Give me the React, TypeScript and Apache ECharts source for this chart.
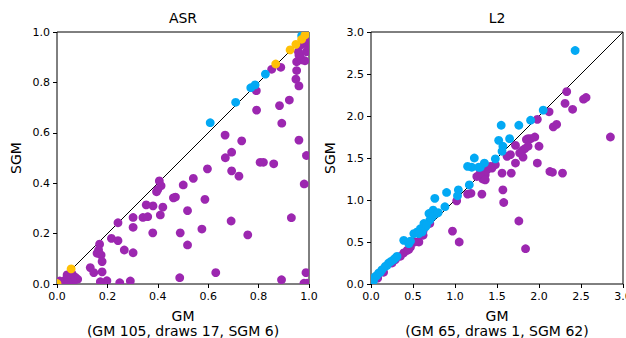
import React, { useEffect, useRef } from 'react';
import * as echarts from 'echarts';

// ---------- ASR panel ----------
const asrPurple: number[][] = [
  [0.852, 0.852], [0.888, 0.86], [0.791, 0.767], [0.792, 0.69], [0.883, 0.708], [0.922, 0.73],
  [0.892, 0.638], [0.667, 0.591], [0.733, 0.568], [0.96, 0.571], [0.668, 0.501], [0.693, 0.523],
  [0.99, 0.51], [0.806, 0.483], [0.819, 0.483], [0.86, 0.477], [0.597, 0.457], [0.693, 0.449],
  [0.722, 0.428], [0.981, 0.397],
  [0.951, 0.882], [0.965, 0.9], [0.971, 0.889], [0.984, 0.886], [0.96, 0.909], [0.951, 0.847],
  [0.948, 0.813], [0.96, 0.786], [0.991, 0.955], [0.997, 0.929], [0.97, 0.95], [0.958, 0.922],
  [0.964, 0.909], [0.984, 0.968], [0.997, 0.948], [0.99, 0.922], [1.0, 0.94], [1.0, 0.96],
  [0.541, 0.419], [0.501, 0.393], [0.406, 0.409], [0.413, 0.39], [0.4, 0.375], [0.395, 0.366],
  [0.462, 0.342], [0.47, 0.345], [0.587, 0.336], [0.354, 0.314], [0.381, 0.31], [0.42, 0.305],
  [0.518, 0.291], [0.41, 0.274], [0.242, 0.243], [0.302, 0.264], [0.341, 0.264], [0.36, 0.267],
  [0.302, 0.225], [0.691, 0.25], [0.93, 0.263], [0.38, 0.203], [0.489, 0.203], [0.575, 0.218],
  [0.757, 0.195], [0.518, 0.155], [0.216, 0.181], [0.242, 0.172], [0.169, 0.158], [0.165, 0.135],
  [0.159, 0.122], [0.175, 0.115], [0.179, 0.089], [0.179, 0.048], [0.267, 0.135], [0.302, 0.124],
  [0.132, 0.065], [0.146, 0.045], [0.198, 0.013], [0.172, 0.009], [0.249, 0.005], [0.291, 0.012],
  [0.487, 0.025], [0.63, 0.045], [0.891, 0.017], [0.988, 0.045], [0.98, 0.003], [0.993, 0.003],
  [0.04, 0.036], [0.06, 0.04], [0.073, 0.027], [0.082, 0.019], [0.033, 0.016], [0.053, 0.019],
  [0.011, 0.012], [0.013, 0.003], [0.065, 0.008], [0.045, 0.005]
];
const asrBlue: number[][] = [
  [0.608, 0.64], [0.709, 0.721], [0.769, 0.779], [0.786, 0.79], [0.827, 0.833], [0.971, 0.985]
];
const asrOrange: number[][] = [
  [0.0, 0.002], [0.056, 0.06], [0.868, 0.873], [0.925, 0.929], [0.948, 0.951], [0.971, 0.971],
  [0.984, 0.988], [0.993, 0.997]
];

// ---------- L2 panel ----------
const l2Purple: number[][] = [
  [2.33, 2.29], [2.31, 2.15], [2.40, 2.08], [2.53, 2.20], [2.56, 2.22], [2.85, 1.75], [2.12, 2.05],
  [1.98, 1.96], [2.17, 1.87], [2.21, 1.90], [1.87, 1.73], [1.90, 1.73], [1.95, 1.75], [1.85, 1.72],
  [1.72, 1.65], [1.80, 1.59], [1.83, 1.61], [1.87, 1.64], [1.77, 1.56], [1.81, 1.51], [2.0, 1.64],
  [1.66, 1.54], [1.62, 1.52], [1.72, 1.44], [1.98, 1.44], [1.44, 1.38], [1.48, 1.42], [1.42, 1.40],
  [1.38, 1.36], [1.36, 1.30], [1.33, 1.25], [1.34, 1.29], [1.26, 1.28], [1.30, 1.32], [1.36, 1.24],
  [1.56, 1.32], [1.67, 1.32], [2.13, 1.34], [2.16, 1.33], [2.28, 1.32], [1.57, 1.12], [1.58, 0.97],
  [1.32, 1.07], [1.19, 1.08], [1.15, 1.07], [1.76, 0.75], [1.84, 0.42], [1.02, 0.99], [0.97, 0.63],
  [1.05, 0.50], [0.70, 0.72], [0.57, 0.50], [0.59, 0.58], [0.47, 0.44], [0.43, 0.40], [0.39, 0.37],
  [0.35, 0.33], [0.29, 0.29], [0.62, 0.63], [0.52, 0.50], [0.25, 0.25], [0.15, 0.14], [0.08, 0.07],
  [0.62, 0.58], [0.45, 0.41]
];
const l2Blue: number[][] = [
  [2.43, 2.78], [2.05, 2.07], [1.90, 1.95], [1.55, 1.89], [1.76, 1.89], [1.52, 1.71], [1.65, 1.73],
  [1.57, 1.64], [1.56, 1.58], [1.48, 1.49], [1.23, 1.50], [1.35, 1.44], [1.30, 1.39], [1.20, 1.39],
  [1.28, 1.39], [1.15, 1.40], [1.17, 1.18], [1.04, 1.12], [1.03, 1.05], [0.90, 1.09], [0.76, 1.02],
  [0.88, 0.92], [0.74, 0.88], [0.78, 0.84], [0.69, 0.84], [0.73, 0.80], [0.70, 0.76], [0.63, 0.72],
  [0.65, 0.68], [0.59, 0.66], [0.55, 0.62], [0.61, 0.62], [0.51, 0.60], [0.39, 0.52], [0.45, 0.48],
  [0.47, 0.51], [0.31, 0.33], [0.27, 0.29], [0.21, 0.25], [0.17, 0.21], [0.13, 0.17], [0.09, 0.13],
  [0.05, 0.09], [0.01, 0.05], [0.03, 0.04], [0.07, 0.10], [0.11, 0.14], [0.19, 0.22], [0.24, 0.27],
  [0.29, 0.31], [0.57, 0.60], [0.66, 0.70], [0.80, 0.85], [0.02, 0.02]
];
const l2Orange: number[][] = [];

const titles = ['ASR', 'L2'];
const yName = 'SGM';
const xNames = ['GM\n(GM 105, draws 17, SGM 6)', 'GM\n(GM 65, draws 1, SGM 62)'];
const axisMax = [1, 3];
const axisStep = [0.2, 0.5];

const PURPLE = '#9C27B0';
const BLUE = '#03A9F4';
const ORANGE = '#FFC107';
const FONT = 'DejaVu Sans';

export default function App() {
  const ref = useRef<HTMLDivElement>(null);
  useEffect(() => {
    document.body.style.margin = '0';
    const chart = echarts.init(ref.current!, null, { renderer: 'svg' });
    const gridLefts = [57, 371];
    const axisCommon = (i: number) => ({
      gridIndex: i,
      type: 'value',
      min: 0,
      max: axisMax[i],
      interval: axisStep[i],
      axisLine: { show: false },
      splitLine: { show: false },
      axisTick: { show: true, inside: false, length: 4, lineStyle: { color: '#000', width: 1 } },
      axisLabel: {
        color: '#000', fontSize: 11, fontFamily: FONT, margin: 7,
        formatter: (v: number) => v.toFixed(1)
      },
      nameTextStyle: { color: '#000', fontSize: 14, fontFamily: FONT }
    });
    const dots = (data: number[][], color: string, gi: number, z: number) => ({
      type: 'custom',
      xAxisIndex: gi,
      yAxisIndex: gi,
      clip: true,
      z,
      data,
      encode: { x: 0, y: 1 },
      renderItem: (params: any, api: any) => {
        const p = api.coord([api.value(0), api.value(1)]);
        return { type: 'circle', shape: { cx: p[0], cy: p[1], r: 4.4 }, style: { fill: color } };
      }
    });
    const diag = (gi: number) => ({
      type: 'line',
      xAxisIndex: gi,
      yAxisIndex: gi,
      data: [[0, 0], [axisMax[gi], axisMax[gi]]],
      symbol: 'none',
      lineStyle: { color: '#000', width: 1 },
      z: 1,
      silent: true
    });
    chart.setOption({
      animation: false,
      textStyle: { fontFamily: FONT },
      title: titles.map((t, i) => ({
        text: t,
        left: gridLefts[i] + 126,
        top: 11,
        textAlign: 'center',
        padding: 0,
        textStyle: { fontSize: 14, fontWeight: 'normal', color: '#000', fontFamily: FONT }
      })),
      grid: gridLefts.map((l) => ({
        left: l, top: 32, width: 252, height: 252,
        outerBoundsMode: 'none',
        containLabel: false,
        show: true, borderColor: '#000', borderWidth: 1, backgroundColor: 'transparent'
      })),
      xAxis: [0, 1].map((i) => ({
        ...axisCommon(i),
        name: xNames[i],
        nameLocation: 'middle',
        nameGap: 24,
        nameTextStyle: { color: '#000', fontSize: 14, fontFamily: FONT, lineHeight: 15, verticalAlign: 'top' }
      })),
      yAxis: [0, 1].map((i) => ({
        ...axisCommon(i),
        name: yName,
        nameLocation: 'middle',
        nameGap: 34
      })),
      series: [
        diag(0), dots(asrPurple, PURPLE, 0, 2), dots(asrBlue, BLUE, 0, 3), dots(asrOrange, ORANGE, 0, 4),
        diag(1), dots(l2Purple, PURPLE, 1, 2), dots(l2Blue, BLUE, 1, 3), dots(l2Orange, ORANGE, 1, 4)
      ]
    });
    return () => chart.dispose();
  }, []);
  return <div ref={ref} style={{ width: 626, height: 338 }} />;
}
